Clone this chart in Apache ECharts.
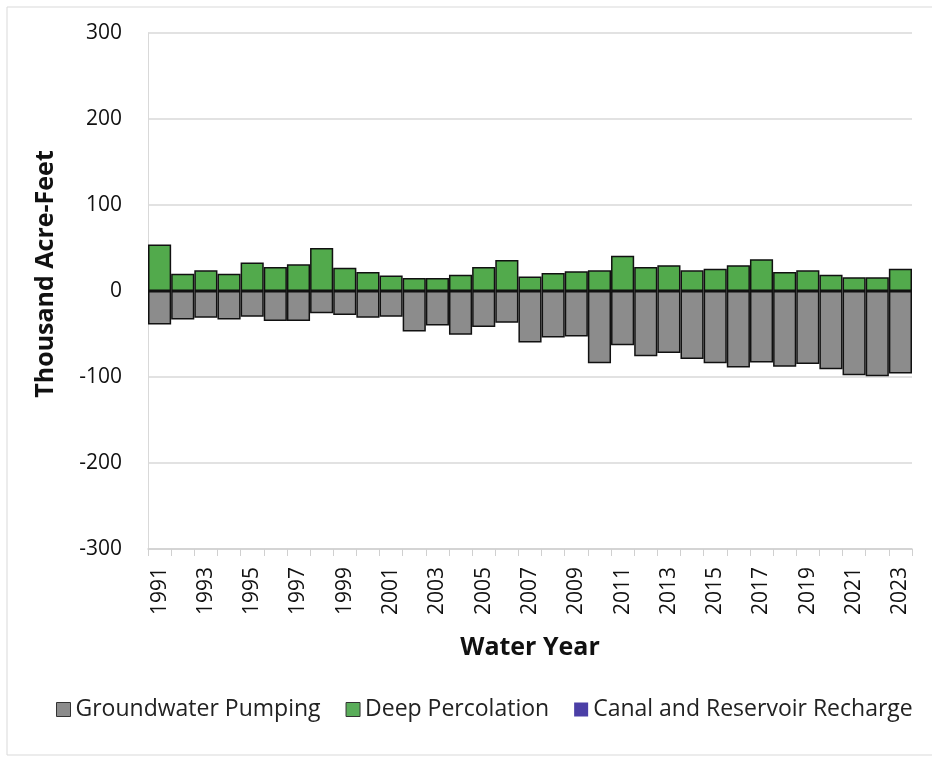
<!DOCTYPE html>
<html><head><meta charset="utf-8">
<script src="https://cdn.jsdelivr.net/npm/echarts@6/dist/echarts.min.js"></script>
<style>html,body{margin:0;padding:0;background:#fff}#c{width:932px;height:757px}</style>
</head><body><div id="c"></div>
<script>
const years = ['1991','1992','1993','1994','1995','1996','1997','1998','1999','2000','2001','2002','2003','2004','2005','2006','2007','2008','2009','2010','2011','2012','2013','2014','2015','2016','2017','2018','2019','2020','2021','2022','2023'];
const groundwaterPumping = [-39,-33,-31,-33,-30,-35,-35,-26,-28,-31,-30,-47,-40,-51,-42,-37,-60,-54,-53,-84,-63,-76,-72,-79,-84,-89,-83,-88,-85,-91,-98,-99,-96];
const deepPercolation = [54,20,24,20,33,28,31,50,27,22,18,15,15,19,28,36,17,21,23,24,41,28,30,24,26,30,37,22,24,19,16,16,26];
const canalReservoirRecharge = [0,0,0,0,0,0,0,0,0,0,0,0,0,0,0,0,0,0,0,0,0,0,0,0,0,0,0,0,0,0,0,0,0];
const yTicks = [-300,-200,-100,0,100,200,300];

const font = 'Open Sans';
const chart = echarts.init(document.getElementById('c'), null, {renderer:'canvas'});
const barStyle = (c) => ({color:c, borderColor:'#111', borderWidth:1.5});
chart.setOption({
  animation:false,
  backgroundColor:'#fff',
  graphic:[{type:'rect', shape:{x:7,y:7,width:940,height:748}, style:{fill:'none', stroke:'#d9d9d9', lineWidth:1}, silent:true}],
  grid:{left:148, right:20, top:33, bottom:208},
  legend:{
    top:693, left:51, itemGap:25, itemWidth:14, itemHeight:14,
    textStyle:{fontFamily:font, fontSize:23, color:'#222'},
    data:[
      {name:'Groundwater Pumping', icon:'rect', itemStyle:{color:'#8c8c8c', borderColor:'#333', borderWidth:1}},
      {name:'Deep Percolation', icon:'rect', itemStyle:{color:'#5aad5a', borderColor:'#333', borderWidth:1}},
      {name:'Canal and Reservoir Recharge', icon:'rect', itemStyle:{color:'#4b3fa6'}}
    ]
  },
  xAxis:{
    type:'category', data:years, position:'bottom',
    name:'Water Year', nameLocation:'middle', nameGap:86,
    nameTextStyle:{fontFamily:font, fontSize:25, fontWeight:'bold', color:'#111'},
    axisLine:{onZero:false, lineStyle:{color:'#d0d0d0', width:1.5}},
    axisTick:{show:true, interval:0, length:7, lineStyle:{color:'#d0d0d0'}},
    axisLabel:{interval:1, rotate:90, fontFamily:font, fontSize:21, color:'#111', margin:18},
    splitLine:{show:false}
  },
  yAxis:{
    type:'value', min:yTicks[0], max:yTicks[yTicks.length-1], interval:100,
    name:'Thousand Acre-Feet', nameLocation:'middle', nameGap:90, nameRotate:90,
    nameTextStyle:{fontFamily:font, fontSize:25, fontWeight:'bold', color:'#111', padding:[0,0,0,34]},
    axisLine:{show:true, lineStyle:{color:'#d9d9d9'}},
    axisTick:{show:false},
    axisLabel:{fontFamily:font, fontSize:21, color:'#111', margin:26},
    splitLine:{lineStyle:{color:'#d9d9d9', width:1.5}}
  },
  series:[
    {name:'Groundwater Pumping', type:'bar', stack:'s', data:groundwaterPumping, barCategoryGap:'0%', itemStyle:barStyle('#8c8c8c')},
    {name:'Deep Percolation', type:'bar', stack:'s', data:deepPercolation, barCategoryGap:'0%', itemStyle:barStyle('#52aa4c')},
    {name:'Canal and Reservoir Recharge', type:'bar', stack:'s', data:canalReservoirRecharge, barCategoryGap:'0%', itemStyle:{color:'#4b3fa6', borderWidth:0}}
  ]
});
</script></body></html>
